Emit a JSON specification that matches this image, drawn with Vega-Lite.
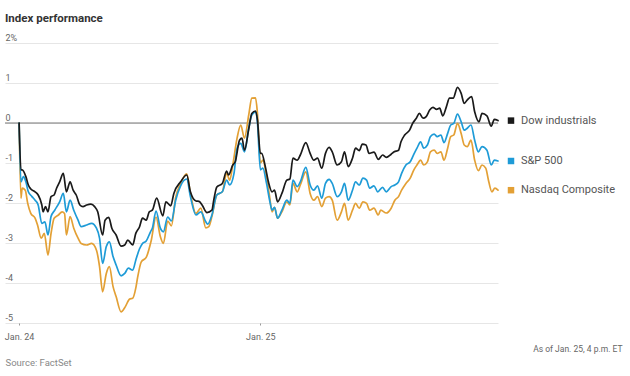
{
  "$schema": "https://vega.github.io/schema/vega-lite/v6.json",
  "width": 493,
  "height": 280,
  "autosize": {"type": "none"},
  "padding": {"left": 5, "top": 43, "right": 132, "bottom": 53},
  "background": "white",
  "title": {"text": "Index performance", "anchor": "start", "frame": "group", "font": "Roboto", "fontSize": 11.5, "fontWeight": "bold", "color": "#333333", "offset": 9},
  "config": {"view": {"stroke": null}},
  "datasets": {
    "series": [
      {"s":"Nasdaq Composite","t":0,"v":0},{"s":"Nasdaq Composite","t":3,"v":-1.88},{"s":"Nasdaq Composite","t":5,"v":-1.63},{"s":"Nasdaq Composite","t":10,"v":-1.68},{"s":"Nasdaq Composite","t":14,"v":-2.01},{"s":"Nasdaq Composite","t":19,"v":-2.26},{"s":"Nasdaq Composite","t":26,"v":-2.38},{"s":"Nasdaq Composite","t":30,"v":-2.55},{"s":"Nasdaq Composite","t":36,"v":-2.88},{"s":"Nasdaq Composite","t":41,"v":-2.76},{"s":"Nasdaq Composite","t":47,"v":-3.3},{"s":"Nasdaq Composite","t":52,"v":-2.76},{"s":"Nasdaq Composite","t":57,"v":-2.38},{"s":"Nasdaq Composite","t":64,"v":-2.3},{"s":"Nasdaq Composite","t":70,"v":-2.22},{"s":"Nasdaq Composite","t":74,"v":-2.26},{"s":"Nasdaq Composite","t":77,"v":-2.8},{"s":"Nasdaq Composite","t":83,"v":-2.34},{"s":"Nasdaq Composite","t":89,"v":-2.63},{"s":"Nasdaq Composite","t":96,"v":-2.88},{"s":"Nasdaq Composite","t":101,"v":-3.01},{"s":"Nasdaq Composite","t":110,"v":-3.05},{"s":"Nasdaq Composite","t":118,"v":-3.01},{"s":"Nasdaq Composite","t":126,"v":-3.18},{"s":"Nasdaq Composite","t":131,"v":-3.59},{"s":"Nasdaq Composite","t":136,"v":-4.22},{"s":"Nasdaq Composite","t":142,"v":-3.76},{"s":"Nasdaq Composite","t":147,"v":-3.59},{"s":"Nasdaq Composite","t":153,"v":-4.09},{"s":"Nasdaq Composite","t":158,"v":-4.34},{"s":"Nasdaq Composite","t":166,"v":-4.72},{"s":"Nasdaq Composite","t":173,"v":-4.59},{"s":"Nasdaq Composite","t":180,"v":-4.4},{"s":"Nasdaq Composite","t":185,"v":-4.38},{"s":"Nasdaq Composite","t":190,"v":-4.13},{"s":"Nasdaq Composite","t":193,"v":-3.86},{"s":"Nasdaq Composite","t":199,"v":-3.47},{"s":"Nasdaq Composite","t":207,"v":-3.36},{"s":"Nasdaq Composite","t":215,"v":-2.95},{"s":"Nasdaq Composite","t":223,"v":-2.35},{"s":"Nasdaq Composite","t":230,"v":-2.84},{"s":"Nasdaq Composite","t":235,"v":-3.01},{"s":"Nasdaq Composite","t":242,"v":-2.45},{"s":"Nasdaq Composite","t":248,"v":-2.57},{"s":"Nasdaq Composite","t":255,"v":-1.86},{"s":"Nasdaq Composite","t":263,"v":-1.51},{"s":"Nasdaq Composite","t":273,"v":-1.27},{"s":"Nasdaq Composite","t":279,"v":-1.76},{"s":"Nasdaq Composite","t":288,"v":-2.26},{"s":"Nasdaq Composite","t":296,"v":-2.13},{"s":"Nasdaq Composite","t":304,"v":-2.62},{"s":"Nasdaq Composite","t":309,"v":-2.59},{"s":"Nasdaq Composite","t":314,"v":-2.34},{"s":"Nasdaq Composite","t":322,"v":-1.8},{"s":"Nasdaq Composite","t":331,"v":-1.72},{"s":"Nasdaq Composite","t":338,"v":-1.26},{"s":"Nasdaq Composite","t":343,"v":-1.43},{"s":"Nasdaq Composite","t":348,"v":-1.05},{"s":"Nasdaq Composite","t":355,"v":-0.38},{"s":"Nasdaq Composite","t":361,"v":-0.05},{"s":"Nasdaq Composite","t":367,"v":-0.38},{"s":"Nasdaq Composite","t":374,"v":0.2},{"s":"Nasdaq Composite","t":379,"v":0.62},{"s":"Nasdaq Composite","t":385,"v":0.63},{"s":"Nasdaq Composite","t":388,"v":0.28},{"s":"Nasdaq Composite","t":393,"v":-1.0},{"s":"Nasdaq Composite","t":397,"v":-0.93},{"s":"Nasdaq Composite","t":403,"v":-1.34},{"s":"Nasdaq Composite","t":408,"v":-1.84},{"s":"Nasdaq Composite","t":412,"v":-2.22},{"s":"Nasdaq Composite","t":416,"v":-2.11},{"s":"Nasdaq Composite","t":421,"v":-2.38},{"s":"Nasdaq Composite","t":428,"v":-2.22},{"s":"Nasdaq Composite","t":436,"v":-1.97},{"s":"Nasdaq Composite","t":441,"v":-2.05},{"s":"Nasdaq Composite","t":446,"v":-1.51},{"s":"Nasdaq Composite","t":453,"v":-1.72},{"s":"Nasdaq Composite","t":458,"v":-1.55},{"s":"Nasdaq Composite","t":467,"v":-1.22},{"s":"Nasdaq Composite","t":474,"v":-1.76},{"s":"Nasdaq Composite","t":480,"v":-1.93},{"s":"Nasdaq Composite","t":486,"v":-1.84},{"s":"Nasdaq Composite","t":493,"v":-2.09},{"s":"Nasdaq Composite","t":499,"v":-1.88},{"s":"Nasdaq Composite","t":505,"v":-1.84},{"s":"Nasdaq Composite","t":510,"v":-1.93},{"s":"Nasdaq Composite","t":518,"v":-2.43},{"s":"Nasdaq Composite","t":525,"v":-2.22},{"s":"Nasdaq Composite","t":530,"v":-2.01},{"s":"Nasdaq Composite","t":536,"v":-2.43},{"s":"Nasdaq Composite","t":543,"v":-2.18},{"s":"Nasdaq Composite","t":548,"v":-2.01},{"s":"Nasdaq Composite","t":554,"v":-2.13},{"s":"Nasdaq Composite","t":560,"v":-1.97},{"s":"Nasdaq Composite","t":566,"v":-2.01},{"s":"Nasdaq Composite","t":571,"v":-2.18},{"s":"Nasdaq Composite","t":578,"v":-2.13},{"s":"Nasdaq Composite","t":585,"v":-2.3},{"s":"Nasdaq Composite","t":589,"v":-2.18},{"s":"Nasdaq Composite","t":598,"v":-2.25},{"s":"Nasdaq Composite","t":606,"v":-2.13},{"s":"Nasdaq Composite","t":612,"v":-1.93},{"s":"Nasdaq Composite","t":618,"v":-1.84},{"s":"Nasdaq Composite","t":623,"v":-1.68},{"s":"Nasdaq Composite","t":630,"v":-1.51},{"s":"Nasdaq Composite","t":637,"v":-1.38},{"s":"Nasdaq Composite","t":643,"v":-1.17},{"s":"Nasdaq Composite","t":648,"v":-1.05},{"s":"Nasdaq Composite","t":654,"v":-0.93},{"s":"Nasdaq Composite","t":659,"v":-1.05},{"s":"Nasdaq Composite","t":665,"v":-0.97},{"s":"Nasdaq Composite","t":670,"v":-0.72},{"s":"Nasdaq Composite","t":676,"v":-0.68},{"s":"Nasdaq Composite","t":681,"v":-0.76},{"s":"Nasdaq Composite","t":687,"v":-0.72},{"s":"Nasdaq Composite","t":692,"v":-0.93},{"s":"Nasdaq Composite","t":698,"v":-0.63},{"s":"Nasdaq Composite","t":703,"v":-0.34},{"s":"Nasdaq Composite","t":708,"v":-0.3},{"s":"Nasdaq Composite","t":714,"v":-0.01},{"s":"Nasdaq Composite","t":720,"v":-0.26},{"s":"Nasdaq Composite","t":725,"v":-0.55},{"s":"Nasdaq Composite","t":730,"v":-0.59},{"s":"Nasdaq Composite","t":736,"v":-0.43},{"s":"Nasdaq Composite","t":742,"v":-0.93},{"s":"Nasdaq Composite","t":748,"v":-1.19},{"s":"Nasdaq Composite","t":754,"v":-1.05},{"s":"Nasdaq Composite","t":760,"v":-1.13},{"s":"Nasdaq Composite","t":765,"v":-1.47},{"s":"Nasdaq Composite","t":770,"v":-1.72},{"s":"Nasdaq Composite","t":775,"v":-1.63},{"s":"Nasdaq Composite","t":780,"v":-1.68},
      {"s":"S&P 500","t":0,"v":0},{"s":"S&P 500","t":3,"v":-1.47},{"s":"S&P 500","t":7,"v":-1.34},{"s":"S&P 500","t":11,"v":-1.47},{"s":"S&P 500","t":15,"v":-1.72},{"s":"S&P 500","t":21,"v":-1.84},{"s":"S&P 500","t":26,"v":-1.93},{"s":"S&P 500","t":31,"v":-2.05},{"s":"S&P 500","t":37,"v":-2.51},{"s":"S&P 500","t":42,"v":-2.47},{"s":"S&P 500","t":47,"v":-2.8},{"s":"S&P 500","t":52,"v":-2.34},{"s":"S&P 500","t":58,"v":-2.18},{"s":"S&P 500","t":66,"v":-1.97},{"s":"S&P 500","t":72,"v":-1.76},{"s":"S&P 500","t":77,"v":-2.22},{"s":"S&P 500","t":83,"v":-1.93},{"s":"S&P 500","t":89,"v":-2.18},{"s":"S&P 500","t":96,"v":-2.43},{"s":"S&P 500","t":101,"v":-2.59},{"s":"S&P 500","t":110,"v":-2.55},{"s":"S&P 500","t":118,"v":-2.51},{"s":"S&P 500","t":126,"v":-2.63},{"s":"S&P 500","t":131,"v":-2.88},{"s":"S&P 500","t":136,"v":-3.51},{"s":"S&P 500","t":142,"v":-3.09},{"s":"S&P 500","t":147,"v":-2.97},{"s":"S&P 500","t":153,"v":-3.34},{"s":"S&P 500","t":158,"v":-3.55},{"s":"S&P 500","t":166,"v":-3.82},{"s":"S&P 500","t":172,"v":-3.76},{"s":"S&P 500","t":178,"v":-3.63},{"s":"S&P 500","t":185,"v":-3.68},{"s":"S&P 500","t":190,"v":-3.43},{"s":"S&P 500","t":196,"v":-3.15},{"s":"S&P 500","t":201,"v":-3.01},{"s":"S&P 500","t":207,"v":-2.95},{"s":"S&P 500","t":214,"v":-2.72},{"s":"S&P 500","t":217,"v":-2.63},{"s":"S&P 500","t":223,"v":-2.2},{"s":"S&P 500","t":230,"v":-2.63},{"s":"S&P 500","t":235,"v":-2.72},{"s":"S&P 500","t":242,"v":-2.35},{"s":"S&P 500","t":248,"v":-2.45},{"s":"S&P 500","t":255,"v":-1.93},{"s":"S&P 500","t":263,"v":-1.57},{"s":"S&P 500","t":273,"v":-1.4},{"s":"S&P 500","t":279,"v":-1.84},{"s":"S&P 500","t":288,"v":-2.3},{"s":"S&P 500","t":296,"v":-2.22},{"s":"S&P 500","t":304,"v":-2.47},{"s":"S&P 500","t":307,"v":-2.53},{"s":"S&P 500","t":314,"v":-2.3},{"s":"S&P 500","t":322,"v":-1.8},{"s":"S&P 500","t":331,"v":-1.72},{"s":"S&P 500","t":338,"v":-1.43},{"s":"S&P 500","t":343,"v":-1.55},{"s":"S&P 500","t":350,"v":-1.26},{"s":"S&P 500","t":355,"v":-0.63},{"s":"S&P 500","t":361,"v":-0.51},{"s":"S&P 500","t":367,"v":-0.72},{"s":"S&P 500","t":374,"v":-0.13},{"s":"S&P 500","t":379,"v":0.2},{"s":"S&P 500","t":385,"v":0.28},{"s":"S&P 500","t":388,"v":0.05},{"s":"S&P 500","t":393,"v":-1.17},{"s":"S&P 500","t":397,"v":-1.13},{"s":"S&P 500","t":403,"v":-1.51},{"s":"S&P 500","t":408,"v":-1.93},{"s":"S&P 500","t":412,"v":-2.18},{"s":"S&P 500","t":416,"v":-2.11},{"s":"S&P 500","t":421,"v":-2.38},{"s":"S&P 500","t":428,"v":-2.18},{"s":"S&P 500","t":436,"v":-1.93},{"s":"S&P 500","t":441,"v":-2.01},{"s":"S&P 500","t":446,"v":-1.43},{"s":"S&P 500","t":453,"v":-1.59},{"s":"S&P 500","t":458,"v":-1.47},{"s":"S&P 500","t":467,"v":-1.11},{"s":"S&P 500","t":474,"v":-1.55},{"s":"S&P 500","t":480,"v":-1.68},{"s":"S&P 500","t":486,"v":-1.57},{"s":"S&P 500","t":493,"v":-1.88},{"s":"S&P 500","t":499,"v":-1.51},{"s":"S&P 500","t":505,"v":-1.41},{"s":"S&P 500","t":510,"v":-1.51},{"s":"S&P 500","t":518,"v":-1.84},{"s":"S&P 500","t":525,"v":-1.72},{"s":"S&P 500","t":530,"v":-1.51},{"s":"S&P 500","t":536,"v":-1.93},{"s":"S&P 500","t":543,"v":-1.68},{"s":"S&P 500","t":548,"v":-1.47},{"s":"S&P 500","t":554,"v":-1.55},{"s":"S&P 500","t":560,"v":-1.38},{"s":"S&P 500","t":566,"v":-1.43},{"s":"S&P 500","t":571,"v":-1.63},{"s":"S&P 500","t":578,"v":-1.57},{"s":"S&P 500","t":584,"v":-1.72},{"s":"S&P 500","t":592,"v":-1.61},{"s":"S&P 500","t":598,"v":-1.72},{"s":"S&P 500","t":606,"v":-1.59},{"s":"S&P 500","t":612,"v":-1.55},{"s":"S&P 500","t":618,"v":-1.47},{"s":"S&P 500","t":623,"v":-1.26},{"s":"S&P 500","t":630,"v":-1.05},{"s":"S&P 500","t":637,"v":-0.97},{"s":"S&P 500","t":643,"v":-0.78},{"s":"S&P 500","t":648,"v":-0.63},{"s":"S&P 500","t":654,"v":-0.47},{"s":"S&P 500","t":659,"v":-0.63},{"s":"S&P 500","t":665,"v":-0.55},{"s":"S&P 500","t":670,"v":-0.34},{"s":"S&P 500","t":676,"v":-0.28},{"s":"S&P 500","t":681,"v":-0.34},{"s":"S&P 500","t":687,"v":-0.3},{"s":"S&P 500","t":692,"v":-0.49},{"s":"S&P 500","t":698,"v":-0.26},{"s":"S&P 500","t":703,"v":-0.05},{"s":"S&P 500","t":708,"v":-0.01},{"s":"S&P 500","t":714,"v":0.22},{"s":"S&P 500","t":720,"v":0.03},{"s":"S&P 500","t":725,"v":-0.18},{"s":"S&P 500","t":730,"v":-0.13},{"s":"S&P 500","t":736,"v":-0.05},{"s":"S&P 500","t":742,"v":-0.43},{"s":"S&P 500","t":748,"v":-0.72},{"s":"S&P 500","t":754,"v":-0.59},{"s":"S&P 500","t":762,"v":-0.68},{"s":"S&P 500","t":769,"v":-1.05},{"s":"S&P 500","t":774,"v":-0.93},{"s":"S&P 500","t":780,"v":-0.95},
      {"s":"Dow industrials","t":0,"v":0},{"s":"Dow industrials","t":3,"v":-1.17},{"s":"Dow industrials","t":5,"v":-1.17},{"s":"Dow industrials","t":11,"v":-1.34},{"s":"Dow industrials","t":15,"v":-1.55},{"s":"Dow industrials","t":19,"v":-1.65},{"s":"Dow industrials","t":26,"v":-1.72},{"s":"Dow industrials","t":31,"v":-1.8},{"s":"Dow industrials","t":37,"v":-2.05},{"s":"Dow industrials","t":39,"v":-2.22},{"s":"Dow industrials","t":43,"v":-2.09},{"s":"Dow industrials","t":47,"v":-2.22},{"s":"Dow industrials","t":52,"v":-1.84},{"s":"Dow industrials","t":57,"v":-1.8},{"s":"Dow industrials","t":61,"v":-1.63},{"s":"Dow industrials","t":66,"v":-1.47},{"s":"Dow industrials","t":72,"v":-1.26},{"s":"Dow industrials","t":77,"v":-1.72},{"s":"Dow industrials","t":83,"v":-1.47},{"s":"Dow industrials","t":88,"v":-1.68},{"s":"Dow industrials","t":93,"v":-1.8},{"s":"Dow industrials","t":99,"v":-2.05},{"s":"Dow industrials","t":104,"v":-2.09},{"s":"Dow industrials","t":110,"v":-2.05},{"s":"Dow industrials","t":117,"v":-2.03},{"s":"Dow industrials","t":123,"v":-2.09},{"s":"Dow industrials","t":128,"v":-2.22},{"s":"Dow industrials","t":136,"v":-2.8},{"s":"Dow industrials","t":140,"v":-2.43},{"s":"Dow industrials","t":146,"v":-2.36},{"s":"Dow industrials","t":151,"v":-2.63},{"s":"Dow industrials","t":158,"v":-2.8},{"s":"Dow industrials","t":166,"v":-3.08},{"s":"Dow industrials","t":172,"v":-3.05},{"s":"Dow industrials","t":177,"v":-2.93},{"s":"Dow industrials","t":185,"v":-3.05},{"s":"Dow industrials","t":190,"v":-2.76},{"s":"Dow industrials","t":196,"v":-2.6},{"s":"Dow industrials","t":201,"v":-2.38},{"s":"Dow industrials","t":207,"v":-2.43},{"s":"Dow industrials","t":212,"v":-2.22},{"s":"Dow industrials","t":217,"v":-2.18},{"s":"Dow industrials","t":224,"v":-1.88},{"s":"Dow industrials","t":234,"v":-2.32},{"s":"Dow industrials","t":239,"v":-1.97},{"s":"Dow industrials","t":247,"v":-2.07},{"s":"Dow industrials","t":252,"v":-1.76},{"s":"Dow industrials","t":263,"v":-1.47},{"s":"Dow industrials","t":273,"v":-1.3},{"s":"Dow industrials","t":279,"v":-1.72},{"s":"Dow industrials","t":288,"v":-1.95},{"s":"Dow industrials","t":293,"v":-1.96},{"s":"Dow industrials","t":298,"v":-2.05},{"s":"Dow industrials","t":306,"v":-2.24},{"s":"Dow industrials","t":314,"v":-2.18},{"s":"Dow industrials","t":317,"v":-1.93},{"s":"Dow industrials","t":322,"v":-1.6},{"s":"Dow industrials","t":331,"v":-1.51},{"s":"Dow industrials","t":338,"v":-1.2},{"s":"Dow industrials","t":341,"v":-1.3},{"s":"Dow industrials","t":348,"v":-1.05},{"s":"Dow industrials","t":352,"v":-0.97},{"s":"Dow industrials","t":359,"v":-0.43},{"s":"Dow industrials","t":363,"v":-0.38},{"s":"Dow industrials","t":367,"v":-0.68},{"s":"Dow industrials","t":374,"v":-0.15},{"s":"Dow industrials","t":379,"v":0.24},{"s":"Dow industrials","t":385,"v":0.3},{"s":"Dow industrials","t":388,"v":0.1},{"s":"Dow industrials","t":393,"v":-0.76},{"s":"Dow industrials","t":395,"v":-0.76},{"s":"Dow industrials","t":401,"v":-1.09},{"s":"Dow industrials","t":406,"v":-1.47},{"s":"Dow industrials","t":412,"v":-1.72},{"s":"Dow industrials","t":416,"v":-1.68},{"s":"Dow industrials","t":421,"v":-1.97},{"s":"Dow industrials","t":428,"v":-1.76},{"s":"Dow industrials","t":436,"v":-1.43},{"s":"Dow industrials","t":441,"v":-1.4},{"s":"Dow industrials","t":446,"v":-0.88},{"s":"Dow industrials","t":453,"v":-0.93},{"s":"Dow industrials","t":458,"v":-0.8},{"s":"Dow industrials","t":467,"v":-0.49},{"s":"Dow industrials","t":474,"v":-0.76},{"s":"Dow industrials","t":480,"v":-0.93},{"s":"Dow industrials","t":486,"v":-0.88},{"s":"Dow industrials","t":493,"v":-1.13},{"s":"Dow industrials","t":499,"v":-0.76},{"s":"Dow industrials","t":505,"v":-0.61},{"s":"Dow industrials","t":510,"v":-0.72},{"s":"Dow industrials","t":518,"v":-1.05},{"s":"Dow industrials","t":525,"v":-0.97},{"s":"Dow industrials","t":530,"v":-0.72},{"s":"Dow industrials","t":536,"v":-1.09},{"s":"Dow industrials","t":543,"v":-0.88},{"s":"Dow industrials","t":548,"v":-0.63},{"s":"Dow industrials","t":554,"v":-0.69},{"s":"Dow industrials","t":559,"v":-0.53},{"s":"Dow industrials","t":565,"v":-0.55},{"s":"Dow industrials","t":570,"v":-0.76},{"s":"Dow industrials","t":578,"v":-0.73},{"s":"Dow industrials","t":585,"v":-0.91},{"s":"Dow industrials","t":592,"v":-0.8},{"s":"Dow industrials","t":598,"v":-0.86},{"s":"Dow industrials","t":606,"v":-0.78},{"s":"Dow industrials","t":611,"v":-0.72},{"s":"Dow industrials","t":618,"v":-0.68},{"s":"Dow industrials","t":622,"v":-0.47},{"s":"Dow industrials","t":628,"v":-0.3},{"s":"Dow industrials","t":636,"v":-0.18},{"s":"Dow industrials","t":641,"v":-0.01},{"s":"Dow industrials","t":647,"v":0.12},{"s":"Dow industrials","t":652,"v":0.24},{"s":"Dow industrials","t":658,"v":0.12},{"s":"Dow industrials","t":663,"v":0.16},{"s":"Dow industrials","t":669,"v":0.33},{"s":"Dow industrials","t":674,"v":0.39},{"s":"Dow industrials","t":680,"v":0.34},{"s":"Dow industrials","t":685,"v":0.37},{"s":"Dow industrials","t":690,"v":0.18},{"s":"Dow industrials","t":696,"v":0.41},{"s":"Dow industrials","t":701,"v":0.62},{"s":"Dow industrials","t":707,"v":0.62},{"s":"Dow industrials","t":714,"v":0.89},{"s":"Dow industrials","t":720,"v":0.74},{"s":"Dow industrials","t":725,"v":0.49},{"s":"Dow industrials","t":730,"v":0.58},{"s":"Dow industrials","t":737,"v":0.66},{"s":"Dow industrials","t":742,"v":0.28},{"s":"Dow industrials","t":749,"v":0.03},{"s":"Dow industrials","t":754,"v":0.24},{"s":"Dow industrials","t":762,"v":0.18},{"s":"Dow industrials","t":769,"v":-0.08},{"s":"Dow industrials","t":774,"v":0.09},{"s":"Dow industrials","t":780,"v":0.06}
    ]
  },
  "data": {"name": "series"},
  "resolve": {"axis": {"y": "independent"}},
  "layer": [
    {
      "data": {"values": [{"zero": 0}]},
      "mark": {"type": "rule", "color": "#777777", "strokeWidth": 1},
      "encoding": {"y": {"field": "zero", "type": "quantitative", "axis": {"orient": "right", "labels": false, "ticks": false, "domain": false, "grid": false, "title": "As of Jan. 25, 4 p.m. ET", "titleAngle": 0, "titleAlign": "right", "titleBaseline": "middle", "titleX": 124, "titleY": 305, "titleFont": "Roboto", "titleFontSize": 8.5, "titleFontWeight": "normal", "titleColor": "#666666"}}}
    },
    {
      "mark": {"type": "line", "strokeWidth": 1.7, "interpolate": "monotone", "strokeJoin": "round", "strokeCap": "round"},
      "encoding": {
        "x": {"field": "t", "type": "quantitative", "scale": {"domain": [-23, 780], "nice": false, "zero": false},
          "axis": {"values": [0, 393], "labelExpr": "datum.value < 200 ? 'Jan. 24' : 'Jan. 25'", "grid": false, "domain": false, "ticks": true, "tickSize": 2, "tickColor": "#999999", "labelPadding": 7, "labelFont": "Roboto", "labelFontSize": 9, "labelColor": "#666666", "labelFlush": false, "title": "Source: FactSet", "titleX": 0, "titleY": 39, "titleAlign": "left", "titleAnchor": "start", "titleBaseline": "middle", "titleFont": "Roboto", "titleFontSize": 9.5, "titleFontWeight": "normal", "titleColor": "#888888"}},
        "y": {"field": "v", "type": "quantitative", "scale": {"domain": [-5, 2], "nice": false, "zero": false},
          "axis": {"orient": "left", "values": [-5, -4, -3, -2, -1, 0, 1, 2], "labelExpr": "datum.value == 2 ? '2%' : (datum.value < 0 ? '-' + abs(datum.value) : '' + datum.value)", "labelAlign": "left", "labelBaseline": "bottom", "labelPadding": 0, "ticks": false, "tickSize": 0, "domain": false, "grid": true, "gridColor": "#e6e6e6", "gridWidth": 1, "labelFont": "Roboto", "labelFontSize": 9, "labelColor": "#666666", "labelFlush": false, "labelOffset": -1, "title": null}},
        "color": {"field": "s", "type": "nominal", "sort": ["Nasdaq Composite", "S&P 500", "Dow industrials"], "scale": {"domain": ["Nasdaq Composite", "S&P 500", "Dow industrials"], "range": ["#e3a035", "#1e9bd7", "#1a1a1a"]}, "legend": null}
      }
    },
    {
      "transform": [{"filter": "datum.t == 780"}],
      "layer": [
        {
          "mark": {"type": "point", "shape": "square", "filled": true, "size": 42, "opacity": 1, "xOffset": 13},
          "encoding": {
            "x": {"field": "t", "type": "quantitative"},
            "y": {"field": "v", "type": "quantitative", "axis": null},
            "color": {"field": "s", "type": "nominal", "legend": null}
          }
        },
        {
          "mark": {"type": "text", "align": "left", "baseline": "middle", "dx": 23, "font": "Roboto", "fontSize": 11, "color": "#555555"},
          "encoding": {
            "x": {"field": "t", "type": "quantitative"},
            "y": {"field": "v", "type": "quantitative", "axis": null},
            "text": {"field": "s"}
          }
        }
      ]
    }
  ]
}
